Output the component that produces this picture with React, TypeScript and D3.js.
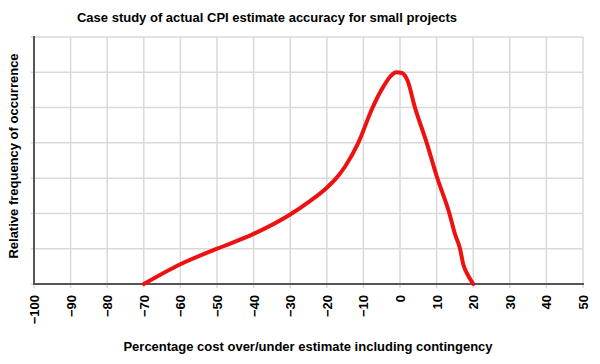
import React from "react";
import * as d3 from "d3";

const xValues = [-70, -60, -50, -40, -30, -25, -20, -17.4, -15, -11.4, -7.5, -4.5, -2.5, -1, 0.5, 2, 4.1, 7.3, 10.2, 13.5, 15, 16.4, 17.3, 18.3, 20];
const yValues = [0, 0.56, 1.0, 1.42, 1.97, 2.32, 2.73, 3.0, 3.33, 4.0, 5.0, 5.6, 5.9, 6.0, 5.98, 5.78, 5.0, 4.0, 3.0, 2.0, 1.42, 1.0, 0.55, 0.3, 0];
const xTicks = [-100, -90, -80, -70, -60, -50, -40, -30, -20, -10, 0, 10, 20, 30, 40, 50];
const yTicks = [0, 1, 2, 3, 4, 5, 6, 7];

const title = "Case study of actual CPI estimate accuracy for small projects";
const xTitle = "Percentage cost over/under estimate including contingency";
const yTitle = "Relative frequency of occurrence";

export default function App() {
  const W = 600, H = 364;
  const x = d3.scaleLinear().domain([-100, 50]).range([34, 583]);
  const y = d3.scaleLinear().domain([0, 7]).range([284, 37]);
  const pts: [number, number][] = xValues.map((v, i) => [v, yValues[i]]);
  const line = d3.line<[number, number]>()
    .x(d => x(d[0]))
    .y(d => y(d[1]))
    .curve(d3.curveMonotoneX);
  const font = "'Liberation Sans', Arial, Helvetica, sans-serif";
  const fmt = (v: number) => (v < 0 ? "\u2212" + Math.abs(v) : String(v));
  return (
    <svg width={W} height={H} style={{ position: "absolute", left: 0, top: 0, background: "#fff" }} fontFamily={font}>
      <rect width={W} height={H} fill="#fff" />
      {yTicks.map(t => (
        <line key={"gy" + t} x1={30.5} x2={583} y1={y(t)} y2={y(t)} stroke="#d9d9d9" strokeWidth={1.5} />
      ))}
      {xTicks.map(t => (
        <line key={"gx" + t} x1={x(t)} x2={x(t)} y1={37} y2={288} stroke="#d9d9d9" strokeWidth={1.5} />
      ))}
      <line x1={34} x2={34} y1={36} y2={285} stroke="#555" strokeWidth={2} />
      <line x1={33} x2={584} y1={284} y2={284} stroke="#555" strokeWidth={2} />
      <path d={line(pts) || ""} fill="none" stroke="#ee1111" strokeWidth={4} strokeLinejoin="round" strokeLinecap="round" />
      {xTicks.map(t => (
        <text key={"lx" + t} transform={`translate(${x(t) + 5},295) rotate(-90)`} textAnchor="end" fontSize={13} fontWeight="bold" fill="#000">
          {fmt(t)}
        </text>
      ))}
      <text x={267} y={21.5} textAnchor="middle" fontSize={13} fontWeight="bold" fill="#000">{title}</text>
      <text x={308} y={351} textAnchor="middle" fontSize={13} fontWeight="bold" fill="#000">{xTitle}</text>
      <text transform="translate(18,156) rotate(-90)" textAnchor="middle" fontSize={13} fontWeight="bold" fill="#000">{yTitle}</text>
    </svg>
  );
}
